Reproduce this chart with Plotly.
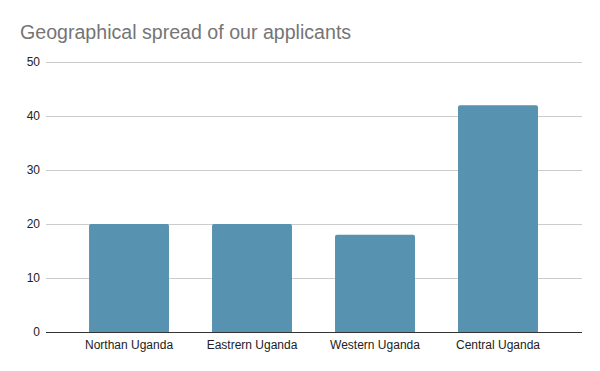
import plotly.graph_objects as go

categories = ["Northan Uganda", "Eastrern Uganda", "Western Uganda", "Central Uganda"]
values = [20, 20, 18, 42]
y_ticks = [0, 10, 20, 30, 40, 50]

fig = go.Figure(
    go.Bar(
        x=categories,
        y=values,
        marker=dict(color="#5792b0", line=dict(width=0), cornerradius=2),
        width=0.65,
    )
)

fig.update_layout(
    width=600,
    height=371,
    margin=dict(l=46, r=18, t=61, b=39),
    paper_bgcolor="white",
    plot_bgcolor="white",
    showlegend=False,
    title=dict(
        text="Geographical spread of our applicants",
        font=dict(family="Liberation Sans, Arial, sans-serif", size=19.6, color="#757575"),
        xref="container", x=20 / 600, xanchor="left",
        yref="container", y=1 - 32 / 371, yanchor="middle",
    ),
    font=dict(family="Liberation Sans, Arial, sans-serif", size=12, color="#222222"),
)

fig.update_xaxes(
    range=[-0.675, 3.683],
    showgrid=False,
    showline=True,
    linecolor="#333333",
    linewidth=1,
    ticks="",
    ticklabelstandoff=2,
    tickfont=dict(size=12, color="#222222"),
)
fig.update_yaxes(
    range=[0, 50.2],
    tickvals=y_ticks,
    showgrid=True,
    gridcolor="#cccccc",
    gridwidth=1,
    zeroline=False,
    showline=False,
    ticks="",
    ticklabelstandoff=5,
    tickfont=dict(size=12, color="#222222"),
)

fig.write_html(
    "out.html",
    config={"displayModeBar": False},
    post_script="document.body.style.margin='0';",
)
